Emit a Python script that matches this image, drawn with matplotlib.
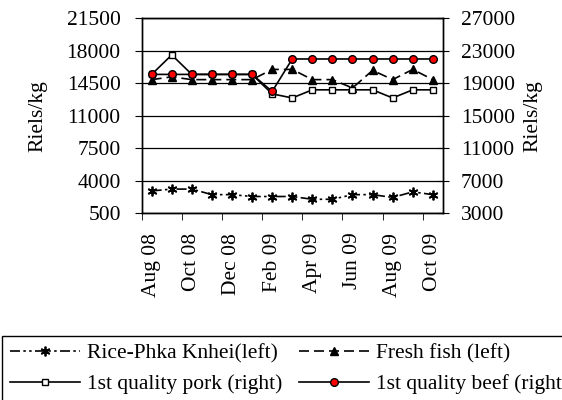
import numpy as np
import matplotlib
matplotlib.use("Agg")
import matplotlib.pyplot as plt

plt.rcParams['font.family'] = ['Liberation Serif', 'DejaVu Serif']
plt.rcParams['font.size'] = 15.5

months = ["Aug 08", "Sep 08", "Oct 08", "Nov 08", "Dec 08", "Jan 09", "Feb 09", "Mar 09",
          "Apr 09", "May 09", "Jun 09", "Jul 09", "Aug 09", "Sep 09", "Oct 09"]

rice = [2900, 3100, 3100, 2500, 2500, 2300, 2300, 2300, 2000, 2000, 2500, 2500, 2200, 2800, 2500]
fish = [14900, 15200, 14900, 14900, 14900, 14900, 16000, 16000, 14900, 14900, 14000, 15900, 14900, 16000, 14900]
pork = [20100, 22500, 20100, 20100, 20100, 20100, 17700, 17200, 18200, 18200, 18200, 18200, 17200, 18200, 18200]
beef = [20100, 20100, 20100, 20100, 20100, 20100, 18000, 22000, 22000, 22000, 22000, 22000, 22000, 22000, 22000]

left_ticks = [500, 4000, 7500, 11000, 14500, 18000, 21500]
right_ticks = [3000, 7000, 11000, 15000, 19000, 23000, 27000]

fig = plt.figure(figsize=(5.62, 4.0), dpi=100)
ax = fig.add_axes([0.252, 0.467, 0.536, 0.487])
ax2 = ax.twinx()

x = np.arange(len(months))

l1, = ax.plot(x, rice, color="black", lw=1.2, linestyle=(0, (6, 2, 1.5, 2, 1.5, 2)),
              marker=(6, 2, 0), markersize=7, markeredgewidth=1.3, label="Rice-Phka Knhei(left)")
l2, = ax.plot(x, fish, color="black", lw=1.2, linestyle=(0, (6, 3)),
              marker="^", markersize=6, label="Fresh fish (left)")
l3, = ax2.plot(x, pork, color="black", lw=1.2, marker="s", markersize=5,
               markerfacecolor="white", markeredgecolor="black", label="1st quality pork (right)")
l4, = ax2.plot(x, beef, color="black", lw=1.2, marker="o", markersize=5.5,
               markerfacecolor="red", markeredgecolor="black", label="1st quality beef (right)")

ax.set_ylim(500, 21500)
ax.set_yticks(left_ticks)
ax2.set_ylim(3000, 27000)
ax2.set_yticks(right_ticks)
ax.yaxis.grid(True, color="black", lw=0.9)
ax.set_axisbelow(True)

ax.set_xlim(-0.5, len(months) - 0.5)
ax.set_xticks(x[::2])
ax.set_xticklabels(months[::2], rotation=90)
ax.set_xticks(np.arange(-0.5, len(months) - 1, 2), minor=True)
ax.tick_params(axis="x", which="major", length=0, pad=14)
ax.tick_params(axis="x", which="minor", length=5, direction="out")
ax.tick_params(axis="y", length=5, direction="out", pad=10)
ax2.tick_params(axis="y", length=8, direction="inout", pad=9)

ax.set_ylabel("Riels/kg", labelpad=14)
ax2.set_ylabel("Riels/kg", labelpad=6)

for a in (ax, ax2):
    for s in a.spines.values():
        s.set_color("black")
        s.set_linewidth(1.0)

# column-major order: rice, pork | fish, beef
leg = fig.legend(handles=[l1, l3, l2, l4], loc="upper left", bbox_to_anchor=(0.004, 0.16),
                 ncol=2, frameon=True, fancybox=False, edgecolor="black", framealpha=1,
                 handlelength=3.25, handletextpad=0.35, columnspacing=0.75, borderpad=0.35,
                 labelspacing=0.5, borderaxespad=0, fontsize=15.5)
leg.get_frame().set_linewidth(1.0)

fig.savefig("out.png", dpi=100)
